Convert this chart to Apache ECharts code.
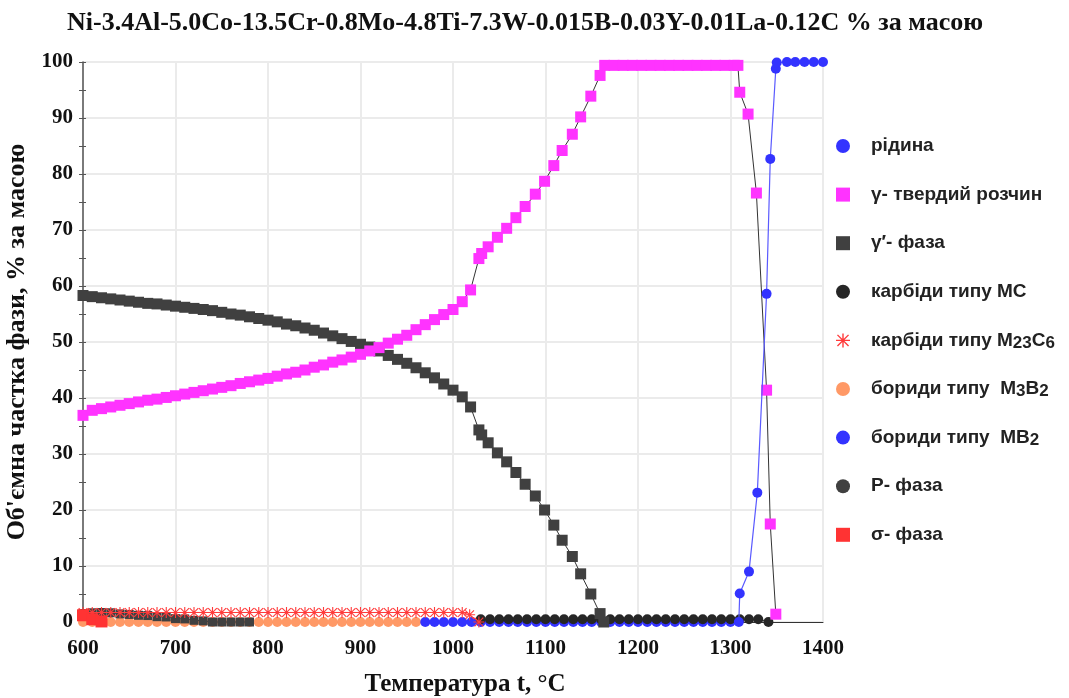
<!DOCTYPE html>
<html><head><meta charset="utf-8">
<script src="https://cdn.jsdelivr.net/npm/echarts@6/dist/echarts.min.js"></script>
<style>html,body{margin:0;padding:0;background:#fff}#c{width:1069px;height:698px}</style>
</head><body><div id="c"></div>
<script>
// ---- texts ----
const titleText = 'Ni-3.4Al-5.0Co-13.5Cr-0.8Mo-4.8Ti-7.3W-0.015B-0.03Y-0.01La-0.12C % за масою';
const xName = 'Температура t, °C';
const yName = "Об'ємна частка фази, % за масою";
const xMin = 600, xMax = 1400, xStep = 100;
const yMin = 0, yMax = 100, yStep = 10;

// ---- series names ----
const nLiquid = 'рідина';
const nGamma = 'γ- твердий розчин';
const nGammaP = 'γ′- фаза';
const nMC = 'карбіди типу МС';
const nM23C6 = 'карбіди типу M23C6';
const nM3B2 = 'бориди типу M3B2';
const nMB2 = 'бориди типу MB2';
const nP = 'P- фаза';
const nSigma = 'σ- фаза';

// ---- data (temperature, % ) ----
const gammaT = [600,610,620,630,640,650,660,670,680,690,700,710,720,730,740,750,760,770,780,790,800,810,820,830,840,850,860,870,880,890,900,910,920,930,940,950,960,970,980,990,1000,1010,
  1019,1028,1031,1038,1048,1058,1068,1078,1089,1099,1109,1118,1129,1138,1149,1159,
  1164,1174,1184,1194,1204,1214,1224,1234,1244,1254,1264,1274,1284,1294,1304,1308,
  1310,1319,1328,1339,1343,1349];
const gammaV = [36.9,37.8,38.1,38.4,38.7,39.0,39.3,39.6,39.8,40.1,40.4,40.7,41.0,41.3,41.6,41.9,42.2,42.6,42.9,43.2,43.5,43.9,44.3,44.6,45.0,45.5,45.9,46.4,46.8,47.3,47.8,48.4,49.0,49.8,50.5,51.2,52.2,53.1,54.0,54.9,55.8,57.2,
  59.3,64.9,65.8,67.0,68.7,70.3,72.2,74.2,76.4,78.7,81.5,84.2,87.1,90.2,93.9,97.6,
  99.4,99.4,99.4,99.4,99.4,99.4,99.4,99.4,99.4,99.4,99.4,99.4,99.4,99.4,99.4,99.4,
  94.6,90.7,76.6,41.4,17.5,1.4];

const gammaPT = [600,610,620,630,640,650,660,670,680,690,700,710,720,730,740,750,760,770,780,790,800,810,820,830,840,850,860,870,880,890,900,910,920,930,940,950,960,970,980,990,1000,1010,
  1019,1028,1031,1038,1048,1058,1068,1078,1089,1099,1109,1118,1129,1138,1149,1159,1163];
const gammaPV = [58.3,58.1,57.9,57.7,57.5,57.3,57.1,56.9,56.8,56.6,56.4,56.2,56.0,55.8,55.6,55.3,55.0,54.8,54.5,54.2,53.9,53.6,53.2,52.9,52.5,52.1,51.6,51.1,50.6,50.1,49.6,49.1,48.4,47.6,46.9,46.2,45.4,44.5,43.6,42.5,41.4,40.2,
  38.4,34.3,33.4,32.0,30.2,28.6,26.7,24.6,22.5,20.0,17.3,14.6,11.7,8.6,5.0,1.5,0];

const liquidT = [1309,1310,1320,1329,1339,1343,1349,1350,1361,1370,1380,1390,1400];
const liquidV = [0,5.1,9.0,23.1,58.6,82.7,98.8,99.9,100,100,100,100,100];

const mb2T = [970,980,990,1000,1010,1020,1030,1040,1050,1060,1070,1080,1090,1100,1110,1120,1130,1140,1150,1160,1170,1180,1190,1200,1210,1220,1230,1240,1250,1260,1270,1280,1290,1300];
const mb2V = [0,0,0,0,0,0,0,0,0,0,0,0,0,0,0,0,0,0,0,0,0,0,0,0,0,0,0,0,0,0,0,0,0,0];

const m3b2T = [600,610,620,630,640,650,660,670,680,690,700,710,720,730,740,750,760,770,780,790,800,810,820,830,840,850,860,870,880,890,900,910,920,930,940,950,960];
const m3b2V = [0,0,0,0,0,0,0,0,0,0,0,0,0,0,0,0,0,0,0,0,0,0,0,0,0,0,0,0,0,0,0,0,0,0,0,0,0];

const mcT = [1030,1040,1050,1060,1070,1080,1090,1100,1110,1120,1130,1140,1150,1160,1170,1180,1190,1200,1210,1220,1230,1240,1250,1260,1270,1280,1290,1300,1310,1320,1330,1341];
const mcV = [0.5,0.5,0.5,0.5,0.5,0.5,0.5,0.5,0.5,0.5,0.5,0.5,0.5,0.5,0.5,0.5,0.5,0.5,0.5,0.5,0.5,0.5,0.5,0.5,0.5,0.5,0.5,0.5,0.5,0.5,0.5,0];

const pT = [600,610,620,630,640,650,660,670,680,690,700,710,720,730,740,750,760,770,780];
const pV = [1.5,1.65,1.7,1.65,1.45,1.35,1.2,1.15,0.95,0.9,0.6,0.55,0.3,0.2,0,0,0,0,0];

const m23c6T = [600,610,620,630,640,650,660,670,680,690,700,710,720,730,740,750,760,770,780,790,800,810,820,830,840,850,860,870,880,890,900,910,920,930,940,950,960,970,980,990,1000,1010,1018,1028];
const m23c6V = [1.7,1.7,1.7,1.7,1.7,1.7,1.7,1.7,1.7,1.7,1.7,1.7,1.7,1.7,1.7,1.7,1.7,1.7,1.7,1.7,1.7,1.7,1.7,1.7,1.7,1.7,1.7,1.7,1.7,1.7,1.7,1.7,1.7,1.7,1.7,1.7,1.7,1.7,1.7,1.7,1.7,1.7,1.3,0];

const sigmaT = [600,610,620];
const sigmaV = [1.2,0.5,0.1];

// ---- rendering ----
const serif = '"Liberation Serif", "Times New Roman", serif';
const sans = '"Liberation Sans", Arial, sans-serif';
const zip = (T, V) => T.map((t, i) => [t, V[i]]);
const asterisk = 'path://M9,0H11V20H9Z M0,9H20V11H0Z M1.4,2.8L2.8,1.4L18.6,17.2L17.2,18.6Z M17.2,1.4L18.6,2.8L2.8,18.6L1.4,17.2Z';
const square = 'path://M0,0H10V10H0Z';

function mk(name, T, V, symbol, size, color, lineColor, lw, z) {
  return {
    name, type: 'line', data: zip(T, V), symbol, symbolSize: size, showAllSymbol: true,
    clip: false, z: z, itemStyle: { color: color, opacity: 1 },
    lineStyle: { color: lineColor, width: lw }, emphasis: { disabled: true }
  };
}

const legendRich = {};
legendRich[nM23C6] = 'карбіди типу M{s|23}C{s|6}';
legendRich[nM3B2] = 'бориди типу  M{s|3}B{s|2}';
legendRich[nMB2] = 'бориди типу  MB{s|2}';

const chart = echarts.init(document.getElementById('c'));
chart.setOption({
  animation: false,
  backgroundColor: '#ffffff',
  title: {
    text: titleText, left: 62, top: 5,
    textStyle: { fontFamily: serif, fontWeight: 'bold', fontSize: 26, color: '#111' }
  },
  grid: { left: 83, right: 246, top: 62, bottom: 76, containLabel: false, outerBoundsMode: 'none' },
  xAxis: {
    type: 'value', min: xMin, max: xMax, interval: xStep,
    name: xName, nameLocation: 'middle', nameGap: 50,
    nameTextStyle: { fontFamily: serif, fontWeight: 'bold', fontSize: 25, color: '#111', padding: [0, 0, 0, 24] },
    axisLine: { onZero: false, lineStyle: { color: '#333', width: 1 } },
    axisTick: { show: false },
    axisLabel: { fontFamily: serif, fontWeight: 'bold', fontSize: 21, color: '#111', margin: 16, formatter: v => String(v) },
    splitLine: { show: true, lineStyle: { color: '#ebebeb', width: 2 } }
  },
  yAxis: [{
    type: 'value', min: yMin, max: yMax, interval: yStep,
    name: yName, nameLocation: 'middle', nameGap: 48,
    nameTextStyle: { fontFamily: serif, fontWeight: 'bold', fontSize: 26, color: '#111' },
    axisLine: { show: true, lineStyle: { color: '#555', width: 1.5 } },
    axisTick: { show: true, length: 4, lineStyle: { color: '#555' } },
    minorTick: { show: true, splitNumber: 2, length: 4, lineStyle: { color: '#555' } },
    axisLabel: { fontFamily: serif, fontWeight: 'bold', fontSize: 21, color: '#111', margin: 10 },
    splitLine: { show: true, lineStyle: { color: '#ebebeb', width: 2 } }
  }, {
    type: 'value', min: yMin, max: yMax, interval: yStep, position: 'left',
    axisLine: { show: false },
    axisTick: { show: true, inside: true, length: 3, lineStyle: { color: '#555' } },
    minorTick: { show: true, splitNumber: 2, length: 3, lineStyle: { color: '#555' } },
    axisLabel: { show: false }, splitLine: { show: false }
  }],
  legend: {
    orient: 'vertical', left: 831, top: 130, itemWidth: 46, itemHeight: 14, itemGap: 26.6,
    selectedMode: false,
    data: [
      { name: nLiquid, icon: 'circle' },
      { name: nGamma, icon: square },
      { name: nGammaP, icon: square },
      { name: nMC, icon: 'circle' },
      { name: nM23C6, icon: asterisk },
      { name: nM3B2, icon: 'circle' },
      { name: nMB2, icon: 'circle' },
      { name: nP, icon: 'circle' },
      { name: nSigma, icon: square }
    ],
    formatter: n => legendRich[n] || n,
    textStyle: {
      fontFamily: sans, fontWeight: 'bold', fontSize: 19, color: '#222', lineHeight: 22,
      rich: { s: { fontFamily: sans, fontWeight: 'bold', fontSize: 17, color: '#222', lineHeight: 8, verticalAlign: 'bottom' } }
    }
  },
  series: [
    mk(nM3B2, m3b2T, m3b2V, 'circle', 10, '#ff9966', '#555', 1, 2),
    mk(nMB2, mb2T, mb2V, 'circle', 10, '#3333ff', '#5555ff', 1, 3),
    mk(nMC, mcT, mcV, 'circle', 10, '#262626', '#222', 1, 4),
    mk(nP, pT, pV, 'rect', 9, '#404040', '#333', 1, 5),
    mk(nM23C6, m23c6T, m23c6V, asterisk, 11, '#ff3b3b', '#ff3b3b', 1, 6),
    mk(nGammaP, gammaPT, gammaPV, 'rect', 11, '#404040', '#333', 1, 7),
    mk(nGamma, gammaT, gammaV, 'rect', 11, '#ff33ff', '#333', 1, 8),
    mk(nLiquid, liquidT, liquidV, 'circle', 10, '#3333ff', '#5a5aff', 1.2, 9),
    mk(nSigma, sigmaT, sigmaV, 'rect', 12, '#ff3333', '#ff3333', 1, 10)
  ]
});
</script>
</body></html>
